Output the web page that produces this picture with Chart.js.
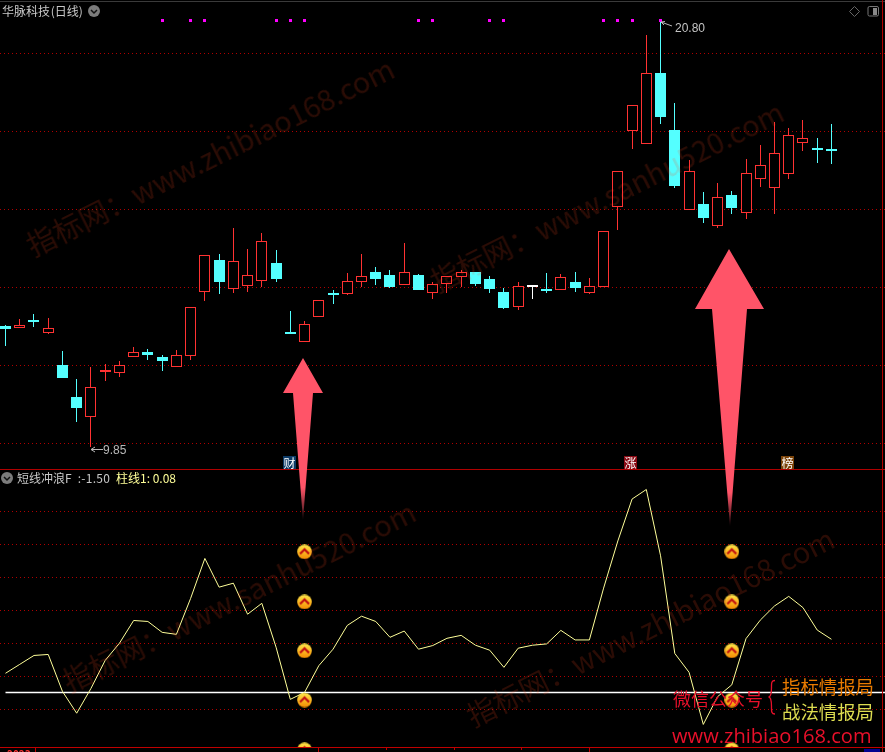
<!DOCTYPE html>
<html lang="zh">
<head>
<meta charset="utf-8">
<title>华脉科技 (日线)</title>
<script src="https://cdn.jsdelivr.net/npm/chart.js@4"></script>
<style>
  html, body { margin: 0; padding: 0; background: #000; }
  #stage { position: relative; width: 885px; height: 752px; overflow: hidden; background: #000; font-family: "Noto Sans CJK SC", sans-serif; }
  canvas { position: absolute; left: 0; display: block; }
  #priceChart { top: 0; }
  #waveChart { top: 470px; }
  svg { position: absolute; left: 0; top: 0; pointer-events: none; }
  .t { position: absolute; white-space: nowrap; line-height: 1; }
  .wm { position: absolute; white-space: nowrap; line-height: 1; font-size: 29px; color: rgba(255,70,30,.17); transform-origin: 0 50%; transform: rotate(-26.5deg); }
  .chip { position: absolute; top: 456px; width: 13px; height: 13px; font-size: 12px; line-height: 13px; text-align: center; color: #fff; }
  .red-tick { position: absolute; background: #c00000; }
</style>
</head>
<body>
<div id="stage">
  <canvas id="priceChart" width="885" height="469"></canvas>
  <canvas id="waveChart" width="885" height="277"></canvas>

  <!-- 水印 -->
  <div class="wm" style="left:28px;top:232px">指标网：www.zhibiao168.com</div>
  <div class="wm" style="left:432px;top:268px">指标网：www.sanhu520.com</div>
  <div class="wm" style="left:64px;top:668px">指标网：www.sanhu520.com</div>
  <div class="wm" style="left:468px;top:702px">指标网：www.zhibiao168.com</div>

  <svg width="885" height="752" viewBox="0 0 885 752">
    <defs>
      <linearGradient id="fadeA" gradientUnits="userSpaceOnUse" x1="0" y1="358" x2="0" y2="520">
        <stop offset="0.8" stop-color="#ff5468"/><stop offset="1" stop-color="#ff5468" stop-opacity="0.15"/>
      </linearGradient>
      <linearGradient id="fadeB" gradientUnits="userSpaceOnUse" x1="0" y1="249" x2="0" y2="526">
        <stop offset="0.88" stop-color="#ff5468"/><stop offset="1" stop-color="#ff5468" stop-opacity="0.15"/>
      </linearGradient>
    </defs>
    <!-- 面板边线 -->
    <line x1="0" y1="1.5" x2="885" y2="1.5" stroke="#3a3a3a"/>
    <line x1="0" y1="469.5" x2="885" y2="469.5" stroke="#b00000"/>
    <line x1="0" y1="747.5" x2="885" y2="747.5" stroke="#c00000"/>
    <line x1="882.5" y1="0" x2="882.5" y2="752" stroke="#b00000"/>
    <!-- 箭头 -->
    <polygon points="303,358 323,393 313,393 303,520 293,393 283,393" fill="url(#fadeA)"/>
    <polygon points="729,249 764,309 747,309 730,526 712,309 695,309" fill="url(#fadeB)"/>
    <!-- 最高最低标注 -->
    <path d="M103 449.5H91M91 449.5l4-2.5M91 449.5l4 2.5" stroke="#b8b8b8" fill="none"/>
    <path d="M672 26L661 22M661 22l4-.5M661 22l3 3" stroke="#b8b8b8" fill="none"/>
    <!-- 按钮 -->
    <circle cx="94" cy="11" r="6" fill="#7c7c7c"/>
    <path d="M91 10l3 3 3-3" stroke="#111" stroke-width="1.5" fill="none"/>
    <circle cx="7" cy="478" r="6" fill="#7c7c7c"/>
    <path d="M4 477l3 3 3-3" stroke="#111" stroke-width="1.5" fill="none"/>
    <path d="M854.5 6.5l5 5-5 5-5-5z" stroke="#666" fill="none"/>
    <rect x="868" y="6.5" width="10.5" height="9.5" rx="1.5" stroke="#777" fill="none"/>
    <rect x="873" y="8" width="4" height="7" fill="#888"/>
    <!-- 花括号 -->
    <path d="M775 680.5c-4 0-3.500 3-3.500 7 0 5-.5 9.500-3 9.500 2.500 0 3 4 3 9.500 0 4-.5 7.500 3.500 7.500" stroke="#e8102a" stroke-width="1.300" fill="none"/>
  </svg>

  <div class="t" style="left:2px;top:5px;font-size:12px;color:#c8c8c8">华脉科技 <span style="margin-left:-2px">(日线)</span></div>
  <div class="t" style="left:675px;top:22px;font-size:12px;color:#c4c4c4;font-family:'Liberation Sans'">20.80</div>
  <div class="t" style="left:103px;top:444px;font-size:12px;color:#b8b8b8;font-family:'Liberation Sans'">9.85</div>
  <div class="chip" style="left:283px;background:#0c3a66">财</div>
  <div class="chip" style="left:624px;background:#8a0a14">涨</div>
  <div class="chip" style="left:781px;background:#7a4208">榜</div>
  <div class="t" style="left:17px;top:472px;font-size:12px;color:#c8c8c8">短线冲浪F<span style="margin-left:6px;letter-spacing:.3px">:-1.50</span></div>
  <div class="t" style="left:116px;top:472px;font-size:12px;color:#ffff99">柱线1: 0.08</div>

  <div class="t" style="left:673px;top:689px;font-size:18px;color:#e8102a">微信公众号</div>
  <div class="t" style="left:782px;top:677px;font-size:18.400px;color:#e87a00">指标情报局</div>
  <div class="t" style="left:782px;top:702px;font-size:18.400px;color:#dcdc50">战法情报局</div>
  <div class="t" style="left:672px;top:726px;font-size:20.100px;color:#e8102a;font-family:'Open Sans'">www.zhibiao168.com</div>

  <div class="t" style="left:7px;top:749px;font-size:10px;color:#ff3232;font-weight:bold">2023</div>
  <div class="red-tick" style="left:35px;top:748px;width:1px;height:4px"></div>
  <div class="red-tick" style="left:318px;top:748px;width:1px;height:4px"></div>
  <div class="red-tick" style="left:386px;top:748px;width:1px;height:2px"></div>
  <div class="red-tick" style="left:454px;top:748px;width:1px;height:2px"></div>
  <div class="red-tick" style="left:521px;top:748px;width:1px;height:2px"></div>
  <div class="red-tick" style="left:589px;top:748px;width:1px;height:4px"></div>
  <div style="position:absolute;left:864px;top:749px;width:16px;height:3px;background:#000090"></div>
</div>

<script>
// K线数据
const opens = [12.95,12.90,13.08,12.77,11.95,11.12,10.62,11.77,11.75,12.16,12.28,12.15,11.90,12.18,13.82,14.64,13.90,13.98,14.11,14.56,
  12.79,12.54,13.18,13.79,13.77,14.08,14.33,14.25,14.00,14.25,13.78,14.03,14.21,14.33,14.15,13.82,13.44,13.94,13.87,13.87,
  14.07,13.80,13.95,16.00,17.94,17.62,19.43,17.96,15.93,16.07,15.52,16.30,15.85,16.72,16.49,16.85,17.65,17.51,17.48];
const closes = [12.87,12.96,13.06,12.89,11.61,10.84,11.38,11.82,11.94,12.27,12.20,12.05,12.19,13.42,14.76,14.07,14.60,14.24,15.12,14.15,
  12.74,12.99,13.60,13.74,14.09,14.22,14.15,13.95,14.32,13.87,14.01,14.22,14.32,14.02,13.89,13.41,13.96,13.94,13.84,14.19,
  13.92,13.96,15.37,16.91,18.60,19.42,18.30,16.53,16.91,15.71,16.24,15.97,16.86,17.07,17.37,17.83,17.76,17.46,17.43];
const highs = [12.97,13.12,13.25,13.15,12.30,11.59,11.89,11.97,12.05,12.41,12.35,12.20,12.33,13.42,14.76,14.79,15.45,14.92,15.32,14.89,
  13.33,13.07,13.60,13.87,14.30,14.79,14.46,14.38,15.07,14.28,14.07,14.22,14.38,14.33,14.23,13.92,14.07,14.00,14.30,14.27,
  14.33,14.18,15.37,16.91,18.60,20.41,20.80,18.66,17.20,16.38,16.61,16.40,17.23,17.59,18.18,18.02,18.23,17.77,18.12];
const lows = [12.44,12.90,12.93,12.75,11.61,10.48,9.85,11.53,11.64,12.16,12.07,11.79,11.90,12.07,13.59,13.77,13.79,13.82,13.95,14.07,
  12.74,12.54,13.18,13.51,13.74,13.95,14.00,13.92,14.00,13.87,13.64,13.79,13.95,13.97,13.79,13.38,13.35,13.64,13.79,13.87,
  13.82,13.77,13.95,15.40,17.49,17.62,18.12,16.48,15.93,15.59,15.46,15.82,15.69,16.51,15.82,16.71,17.43,17.12,17.10];

// 顶部紫色信号点
const signalDays = [11,13,14,19,20,21,29,30,34,35,42,43,44,46];
const signalLevel = 20.78;

// 短线冲浪F
const waveF = [-2.53,-2.26,-1.99,-1.96,-3.08,-3.74,-2.99,-2.14,-1.62,-0.93,-0.96,-1.29,-1.35,-0.26,0.95,0.08,0.20,-0.74,-0.41,-1.74,
  -3.32,-3.11,-2.30,-1.80,-1.08,-0.80,-0.96,-1.44,-1.25,-1.80,-1.69,-1.47,-1.38,-1.68,-1.83,-2.35,-1.77,-1.68,-1.64,-1.23,
  -1.52,-1.52,0.05,1.48,2.75,3.04,1.03,-1.93,-2.50,-4.08,-3.24,-2.88,-1.48,-0.92,-0.49,-0.20,-0.54,-1.22,-1.50];
const baseLevel = -3.11;

// 箭头下方的买点图标
const iconDays = [21,51];
const iconLevels = [1.15,-0.37,-1.85,-3.34,-4.85];

// 分割线
const priceLevels = [9.94,11.94,13.94,15.94,17.94,19.94];
const waveLevels = [-3.62,-2.62,-1.62,-0.62,0.38,1.38,2.38];

const RED = '#ff3232';
const CYAN = '#54ffff';
const days = opens.map((_, i) => i);
const candleColor = days.map(i => closes[i] === opens[i] ? '#ffffff' : closes[i] > opens[i] ? RED : CYAN);

// 两个面板共用的横轴
const xMin = -0.386, xMax = 61.76;
const xAxis = { type: 'linear', min: xMin, max: xMax, offset: false, display: false };

function levelAxis(min, max, levels) {
  return {
    min: min, max: max,
    ticks: { display: false },
    grid: { color: '#b00000', drawTicks: false, lineWidth: 1 },
    border: { display: false, dash: [1, 3] },
    afterBuildTicks: axis => { axis.ticks = levels.map(v => ({ value: v })); }
  };
}

// 把柱子和信号点对齐到整像素，否则细线会发虚
const snapBars = {
  id: 'snapBars',
  afterDatasetsUpdate(chart) {
    chart.data.datasets.forEach((ds, n) => {
      chart.getDatasetMeta(n).data.forEach(el => {
        el.x = Math.floor(el.x) + 0.5;
        if (ds.type === 'bar') {
          el.y = Math.round(el.y);
          el.base = Math.round(el.base);
        } else {
          el.y = Math.floor(el.y) + 0.5;
        }
      });
    });
  }
};

const common = {
  responsive: false,
  animation: false,
  devicePixelRatio: 1,
  events: [],
  layout: { padding: 0, autoPadding: false },
  plugins: { legend: { display: false }, tooltip: { enabled: false } }
};

// --- K线图 ---
new Chart(document.getElementById('priceChart'), {
  type: 'bar',
  plugins: [snapBars],
  data: {
    datasets: [{
      type: 'scatter',
      order: 0,
      data: signalDays.map(d => ({ x: d, y: signalLevel })),
      pointStyle: 'rect',
      pointRadius: 2.13,
      backgroundColor: '#ff00ff',
      borderWidth: 0
    }, {
      type: 'bar',
      order: 1,
      grouped: false,
      data: days.map(i => ({ x: i, y: [opens[i], closes[i]] })),
      barThickness: 11,
      minBarLength: 2,
      inflateAmount: 0,
      borderWidth: 1,
      borderSkipped: false,
      borderColor: candleColor,
      backgroundColor: days.map(i => closes[i] > opens[i] ? '#000000' : candleColor[i])
    }, {
      type: 'bar',
      order: 2,
      grouped: false,
      data: days.map(i => ({ x: i, y: [lows[i], highs[i]] })),
      barThickness: 1,
      inflateAmount: 0,
      borderWidth: 0,
      backgroundColor: candleColor
    }]
  },
  options: {
    ...common,
    scales: { x: xAxis, y: levelAxis(9.278, 21.304, priceLevels) }
  }
});

// 买点图标：黄色圆底 + 红色箭头
function makeIcon() {
  const c = document.createElement('canvas');
  c.width = 15; c.height = 15;
  const g = c.getContext('2d');
  const fill = g.createLinearGradient(0, 0, 0, 15);
  fill.addColorStop(0, '#ffe84a');
  fill.addColorStop(1, '#f58a00');
  g.fillStyle = fill;
  g.beginPath(); g.arc(7.5, 7.5, 7.3, 0, Math.PI * 2); g.fill();
  g.strokeStyle = '#c01010';
  g.lineWidth = 2.2;
  g.beginPath(); g.moveTo(3, 9.5); g.lineTo(7.5, 5); g.lineTo(12, 9.5); g.stroke();
  return c;
}
const icon = makeIcon();

// --- 短线冲浪 ---
new Chart(document.getElementById('waveChart'), {
  type: 'line',
  data: {
    datasets: [{
      type: 'scatter',
      order: 0,
      data: iconDays.flatMap(d => iconLevels.map(v => ({ x: d, y: v }))),
      pointStyle: icon,
      pointRadius: 7.5
    }, {
      order: 1,
      data: days.map(i => ({ x: i, y: waveF[i] })),
      borderColor: '#ffff99',
      borderWidth: 1,
      tension: 0,
      pointRadius: 0
    }, {
      order: 2,
      data: [{ x: 0, y: baseLevel }, { x: xMax, y: baseLevel }],
      borderColor: '#ffffff',
      borderWidth: 1.5,
      pointRadius: 0
    }]
  },
  options: {
    ...common,
    scales: { x: xAxis, y: levelAxis(-4.764, 3.63, waveLevels) }
  }
});
</script>
</body>
</html>
